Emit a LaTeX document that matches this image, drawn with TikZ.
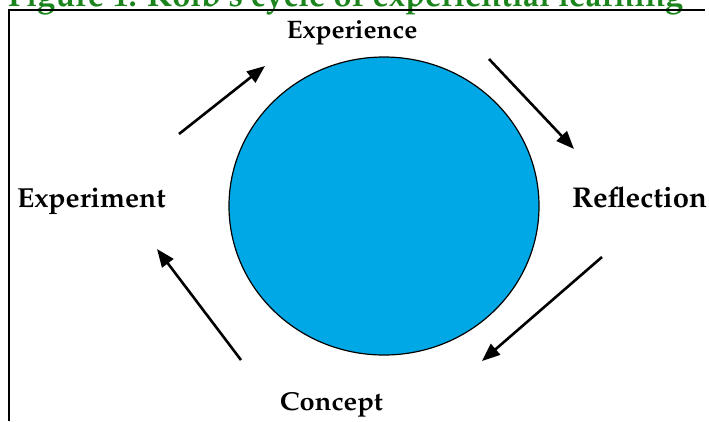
\documentclass[tikz,border=0pt]{standalone}
\usepackage[T1]{fontenc}
\usepackage{mathpazo}
\usetikzlibrary{arrows.meta,shapes.geometric}
\definecolor{titlegreen}{RGB}{28,132,28}
\definecolor{circblue}{RGB}{0,169,230}
\begin{document}
\begin{tikzpicture}[x=1pt,y=-1pt,
  lbl/.style={font=\fontsize{22}{26}\selectfont\bfseries, inner sep=0pt, anchor=base},
  titlestyle/.style={font=\bfseries, text=titlegreen, inner sep=0pt, anchor=base west},
  cyc/.style={line width=2.6pt, -{Triangle[length=18pt,width=14pt]}}]
\useasboundingbox (0,0) rectangle (709,421);
\begin{scope}
  \clip (0,0) rectangle (709,421);
  \node[titlestyle] (title) at (8,6) {\resizebox{675pt}{!}{Figure 1: Kolb's cycle of experiential learning}};
\end{scope}
\coordinate (fb) at (9,421);
\coordinate (fc) at (9,10);
\coordinate (fr) at (705,10);
\draw[line width=1.5pt] (fb) -- (fc) -- (fr);
\node[ellipse, draw, fill=circblue, line width=1.2pt, minimum width=310pt, minimum height=298pt, inner sep=0pt] (c) at (384,206) {};
\node[lbl] (exp) at (352,38) {\scalebox{1.19}[1.15]{Experience}};
\node[lbl] (ref) at (639.5,207) {\scalebox{1.33}[1.3]{Reflection}};
\node[lbl] (con) at (331.5,410) {\scalebox{1.24}[1.18]{Concept}};
\node[lbl] (emt) at (91.5,207) {\scalebox{1.28}[1.25]{Experiment}};
\coordinate (a1s) at (179,134); \coordinate (a1e) at (265,66);
\coordinate (a2s) at (489,59);  \coordinate (a2e) at (574,149);
\coordinate (a3s) at (602,257); \coordinate (a3e) at (482,361);
\coordinate (a4s) at (241,360); \coordinate (a4e) at (157,249);
\draw[cyc] (a1s) -- (a1e);
\draw[cyc] (a2s) -- (a2e);
\draw[cyc] (a3s) -- (a3e);
\draw[cyc] (a4s) -- (a4e);
\end{tikzpicture}
\end{document}
